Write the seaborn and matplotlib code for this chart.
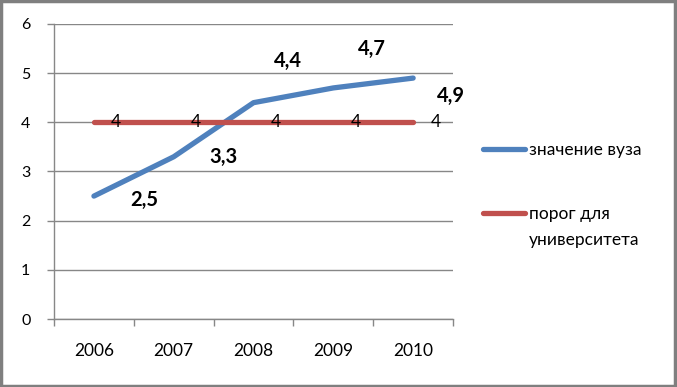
import matplotlib
matplotlib.use("Agg")
import matplotlib.pyplot as plt
import seaborn as sns
import pandas as pd
from matplotlib.ticker import FixedLocator, NullFormatter
from matplotlib.patches import Rectangle

# Data
years = ["2006", "2007", "2008", "2009", "2010"]
uni_values = [2.5, 3.3, 4.4, 4.7, 4.9]
threshold = [4, 4, 4, 4, 4]
uni_labels = ["2,5", "3,3", "4,4", "4,7", "4,9"]
series_names = ["значение вуза", "порог для", "университета"]
# label offsets in points (manual placement as in the original)
uni_offsets = [(36, -3), (36, 0), (25, 30), (28, 28), (27, -13)]

blue = "#4F81BD"
red = "#C0504D"
grid_c = "#878787"

sns.set_theme(style="white")
plt.rcParams["font.family"] = ["Lato", "Open Sans", "DejaVu Sans"]

fig = plt.figure(figsize=(6.77, 3.87), dpi=100)
ax = fig.add_axes([0.0798, 0.1757, 0.5894, 0.7623])

df = pd.DataFrame({"year": years, "uni": uni_values, "thr": threshold})
sns.lineplot(data=df, x="year", y="uni", ax=ax, color=blue, linewidth=3.8,
             solid_capstyle="round", label=series_names[0], sort=False)
sns.lineplot(data=df, x="year", y="thr", ax=ax, color=red, linewidth=3.8,
             solid_capstyle="round", label=series_names[1], sort=False)

# data labels
for i, (v, lab, off) in enumerate(zip(uni_values, uni_labels, uni_offsets)):
    ax.annotate(lab, (i, v), xytext=off, textcoords="offset points",
                ha="center", va="center", fontsize=14.5, fontweight="bold",
                color="black")
for i, v in enumerate(threshold):
    ax.annotate(str(v), (i, v), xytext=(16, 0), textcoords="offset points",
                ha="center", va="center", fontsize=12.5, color="black")

ax.set_xlim(-0.5, len(years) - 0.5)
ax.set_ylim(0, 6)
ax.set_yticks(range(0, 7))
ax.yaxis.grid(True, color=grid_c, linewidth=1)
ax.set_axisbelow(True)
ax.set_xlabel("")
ax.set_ylabel("")

ax.xaxis.set_minor_locator(FixedLocator([i - 0.5 for i in range(len(years) + 1)]))
ax.xaxis.set_minor_formatter(NullFormatter())
ax.tick_params(axis="x", which="major", length=0, pad=17, labelsize=12.5,
               colors="black")
ax.tick_params(axis="x", which="minor", length=5, width=1, color=grid_c,
               bottom=True, direction="out")
ax.tick_params(axis="y", length=5, width=1, color=grid_c, left=True,
               labelsize=11.5, labelcolor="black", pad=12)

for s in ["top", "right"]:
    ax.spines[s].set_visible(False)
for s in ["left", "bottom"]:
    ax.spines[s].set_color(grid_c)
    ax.spines[s].set_linewidth(1)

leg = ax.legend(loc="center left", bbox_to_anchor=(1.075, 0.464), frameon=False,
                fontsize=12.5, handlelength=2.4, handletextpad=0.25,
                labelspacing=2.75, borderpad=0, borderaxespad=0)
for t in leg.get_texts():
    t.set_color("#000000")
# second line of the threshold label (drawn after the legend is laid out)
ax.annotate(series_names[2], xy=(0, 0), xycoords=leg.get_texts()[1],
            xytext=(0, -7), textcoords="offset points", va="top", ha="left",
            fontsize=12.5, color="black", zorder=10, annotation_clip=False)

# figure frame
fig.patches.append(Rectangle((0.002, 0.002), 0.995, 0.995,
                             transform=fig.transFigure, fill=False,
                             edgecolor="#7f7f7f", linewidth=2.5))

fig.savefig("out.png", dpi=100)
